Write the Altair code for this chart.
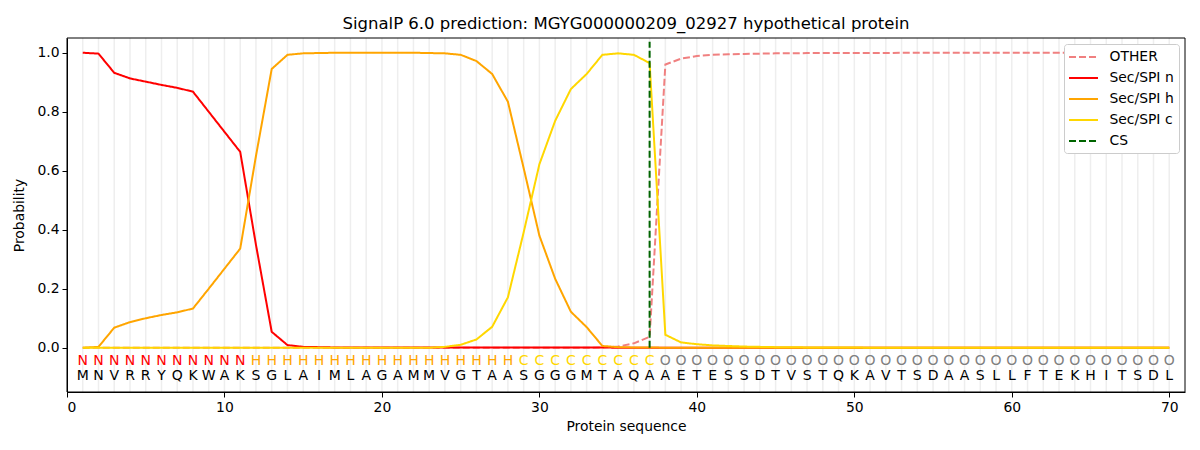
import altair as alt
import pandas as pd

title_text = "SignalP 6.0 prediction: MGYG000000209_02927 hypothetical protein"

sequence = list("MNVRRYQKWAKSGLAIMLAGAMMVGTAASGGGMTAQAAETESSDTVSTQKAVTSDAASLLFTEKHITSDL")
labels = list("NNNNNNNNNNNHHHHHHHHHHHHHHHHHCCCCCCCCCOOOOOOOOOOOOOOOOOOOOOOOOOOOOOOOOO")

series_names = ["OTHER", "Sec/SPI n", "Sec/SPI h", "Sec/SPI c", "CS"]
series_colors = ["#f08080", "#ff0000", "#ffa500", "#ffd700", "#006400"]
label_colors = {"N": "#ff0000", "H": "#ffa500", "C": "#ffd700", "O": "#808080"}

other = [
    0.000, 0.000, 0.000, 0.000, 0.000, 0.000, 0.000, 0.000, 0.000, 0.000,
    0.000, 0.000, 0.000, 0.000, 0.000, 0.000, 0.000, 0.000, 0.000, 0.000,
    0.000, 0.000, 0.000, 0.000, 0.000, 0.000, 0.000, 0.000, 0.000, 0.000,
    0.000, 0.000, 0.000, 0.001, 0.004, 0.015, 0.037, 0.960, 0.980, 0.989,
    0.993, 0.995, 0.996, 0.997, 0.998, 0.998, 0.999, 0.999, 0.999, 0.999,
    0.999, 0.999, 1.000, 1.000, 1.000, 1.000, 1.000, 1.000, 1.000, 1.000,
    1.000, 1.000, 1.000, 1.000, 1.000, 1.000, 1.000, 1.000, 1.000, 1.000,
]
sec_n = [
    1.000, 0.997, 0.932, 0.913, 0.902, 0.891, 0.881, 0.868, 0.800, 0.732,
    0.664, 0.349, 0.054, 0.009, 0.003, 0.002, 0.001, 0.001, 0.001, 0.001,
    0.001, 0.001, 0.001, 0.001, 0.001, 0.001, 0.001, 0.001, 0.001, 0.001,
    0.001, 0.001, 0.001, 0.001, 0.000, 0.000, 0.000, 0.000, 0.000, 0.000,
    0.000, 0.000, 0.000, 0.000, 0.000, 0.000, 0.000, 0.000, 0.000, 0.000,
    0.000, 0.000, 0.000, 0.000, 0.000, 0.000, 0.000, 0.000, 0.000, 0.000,
    0.000, 0.000, 0.000, 0.000, 0.000, 0.000, 0.000, 0.000, 0.000, 0.000,
]
sec_h = [
    0.000, 0.003, 0.068, 0.087, 0.100, 0.111, 0.120, 0.133, 0.200, 0.268,
    0.336, 0.650, 0.945, 0.993, 0.998, 0.999, 1.000, 1.000, 1.000, 1.000,
    1.000, 1.000, 0.999, 0.998, 0.993, 0.972, 0.928, 0.834, 0.609, 0.380,
    0.234, 0.122, 0.070, 0.006, 0.002, 0.001, 0.001, 0.000, 0.000, 0.000,
    0.000, 0.000, 0.000, 0.000, 0.000, 0.000, 0.000, 0.000, 0.000, 0.000,
    0.000, 0.000, 0.000, 0.000, 0.000, 0.000, 0.000, 0.000, 0.000, 0.000,
    0.000, 0.000, 0.000, 0.000, 0.000, 0.000, 0.000, 0.000, 0.000, 0.000,
]
sec_c = [
    0.000, 0.000, 0.000, 0.000, 0.000, 0.000, 0.000, 0.000, 0.000, 0.000,
    0.000, 0.000, 0.000, 0.000, 0.000, 0.000, 0.000, 0.000, 0.000, 0.000,
    0.000, 0.000, 0.000, 0.003, 0.010, 0.028, 0.071, 0.171, 0.391, 0.622,
    0.769, 0.877, 0.928, 0.993, 0.998, 0.993, 0.965, 0.044, 0.018, 0.012,
    0.008, 0.006, 0.004, 0.003, 0.002, 0.002, 0.001, 0.001, 0.001, 0.001,
    0.000, 0.000, 0.000, 0.000, 0.000, 0.000, 0.000, 0.000, 0.000, 0.000,
    0.000, 0.000, 0.000, 0.000, 0.000, 0.000, 0.000, 0.000, 0.000, 0.000,
]
cs_position = 37
x_ticks = [0, 10, 20, 30, 40, 50, 60, 70]
y_ticks = [0.0, 0.2, 0.4, 0.6, 0.8, 1.0]

positions = list(range(1, len(sequence) + 1))

rows = []
for name, vals in zip(series_names[:4], [other, sec_n, sec_h, sec_c]):
    for p, v in zip(positions, vals):
        rows.append({"pos": p, "prob": v, "series": name})
lines_df = pd.DataFrame(rows)

seq_df = pd.DataFrame({
    "pos": positions,
    "aa": sequence,
    "lab": labels,
    "lc": [label_colors[l] for l in labels],
})
cs_df = pd.DataFrame({"pos": [cs_position], "series": ["CS"]})

FONT = "DejaVu Sans"
W, H = 1118, 354

x_enc = alt.X("pos:Q", scale=alt.Scale(domain=[0, 71], nice=False, zero=False),
              axis=alt.Axis(values=x_ticks, title="Protein sequence", grid=False,
                            format="d"))
y_scale = alt.Scale(domain=[-0.15, 1.05], nice=False, zero=False)

color_scale = alt.Scale(domain=series_names, range=series_colors)
dash_scale = alt.Scale(domain=series_names,
                       range=[[7, 3], [1, 0], [1, 0], [1, 0], [7, 3]])

grid = alt.Chart(seq_df).mark_rule(color="#eeeeee", strokeWidth=1.5).encode(x=x_enc)

lines = alt.Chart(lines_df).mark_line(strokeWidth=2).encode(
    x=x_enc,
    y=alt.Y("prob:Q", scale=y_scale,
            axis=alt.Axis(values=y_ticks, format=".1f", title="Probability", grid=False)),
    color=alt.Color("series:N", scale=color_scale, legend=alt.Legend(title=None)),
    strokeDash=alt.StrokeDash("series:N", scale=dash_scale, legend=alt.Legend(title=None)),
)

cs_rule = alt.Chart(cs_df).mark_rule(strokeWidth=2).encode(
    x=x_enc,
    y=alt.datum(0.0),
    y2=alt.datum(1.037),
    color=alt.Color("series:N", scale=color_scale, legend=alt.Legend(title=None)),
    strokeDash=alt.StrokeDash("series:N", scale=dash_scale, legend=alt.Legend(title=None)),
)

lab_text = alt.Chart(seq_df).mark_text(fontSize=14, baseline="middle", font=FONT).encode(
    x=x_enc,
    y=alt.datum(-0.046),
    text="lab:N",
    color=alt.Color("lc:N", scale=None),
)
seq_text = alt.Chart(seq_df).mark_text(fontSize=14, baseline="middle", font=FONT,
                                       color="black").encode(
    x=x_enc,
    y=alt.datum(-0.097),
    text="aa:N",
)

frame = alt.Chart(cs_df).mark_rect(filled=False, stroke="black", strokeWidth=1).encode(
    x=alt.value(0), x2=alt.value(W), y=alt.value(0), y2=alt.value(H)
)

chart = alt.layer(grid, lines, cs_rule, lab_text, seq_text, frame).properties(
    width=W,
    height=H,
    title=alt.TitleParams(title_text, fontSize=16.5, fontWeight="normal", font=FONT,
                          color="black", offset=5),
    autosize=alt.AutoSizeParams(type="none"),
    padding={"left": 59, "top": 30, "right": 7, "bottom": 50},
).configure_view(
    stroke=None
).configure_axis(
    domainColor="black", tickColor="black", tickSize=5, labelFontSize=13.9,
    titleFontSize=13.9, labelColor="black", titleColor="black",
    titleFontWeight="normal", labelFont=FONT, titleFont=FONT, labelPadding=3,
).configure_axisX(titlePadding=6).configure_axisY(titlePadding=10).configure_legend(
    orient="top-right", offset=6, fillColor="white", strokeColor="#cccccc",
    cornerRadius=3, padding=5, labelFontSize=13.9, labelFont=FONT, labelColor="black",
    symbolStrokeWidth=2, symbolType="M-2.07,0H2.07", symbolSize=196, rowPadding=6,
    symbolOffset=6.5, labelOffset=18,
)

chart.save("out.html", embed_options={"renderer": "svg", "actions": False})
